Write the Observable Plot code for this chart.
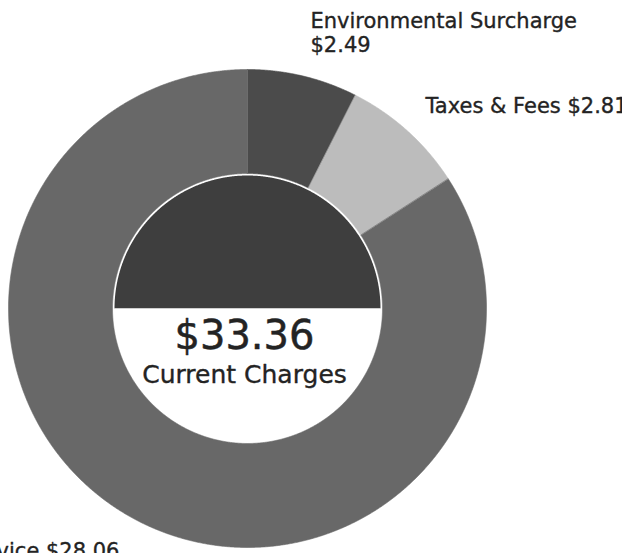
<!DOCTYPE html>
<html>
<head>
<meta charset="utf-8">
<script src="https://cdn.jsdelivr.net/npm/d3@7"></script>
<script src="https://cdn.jsdelivr.net/npm/@observablehq/plot@0.6"></script>
<style>
  html, body { margin: 0; padding: 0; background: #fff; overflow: hidden; }
  #chart svg { display: block; overflow: visible; }
</style>
</head>
<body>
<div id="chart"></div>
<script>
// ---- data ----
const categories = ["Environmental Surcharge", "Taxes & Fees", "Service"];
const values = [2.49, 2.81, 28.06];
const labelNames = ["Environmental Surcharge\n", "Taxes & Fees ", "Service "];
const total = 33.36;
const totalLabel = "Current Charges";

// ---- layout & style ----
const W = 622, H = 553;
const cx = 247, cy = 308;          // donut centre (px)
const rOuter = 239, rInner = 135, rDisc = 133;
const colors = ["#4b4b4b", "#bcbcbc", "#686868"];
const discColor = "#3e3e3e";
const textColor = "#232323";
const labelPos = [
  {x: 310, y: 51, anchor: "start"},
  {x: 425, y: 112, anchor: "start"},
  {x: 119, y: 557, anchor: "end"}
];
const fmt = d3.format("$.2f");

// ---- geometry from data ----
const arcs = d3.pie().sort(null).value(d => d)(values);
const step = Math.PI / 720;
function arcPts(r, a0, a1) {
  const n = Math.max(2, Math.ceil(Math.abs(a1 - a0) / step));
  return d3.range(n + 1).map(i => {
    const a = a0 + (a1 - a0) * i / n;
    return [cx + r * Math.sin(a), cy - r * Math.cos(a)];
  });
}
const slicePts = [];
arcs.forEach((a, i) => {
  const ring = [...arcPts(rOuter, a.startAngle, a.endAngle), ...arcPts(rInner, a.endAngle, a.startAngle)];
  ring.forEach(([x, y]) => slicePts.push({key: categories[i], x, y}));
});
// centre disc: top half dark, bottom half white
const discPts = [];
arcPts(rDisc, -Math.PI / 2, Math.PI / 2).forEach(([x, y]) => discPts.push({key: "top", x, y}));
arcPts(rDisc, Math.PI / 2, 3 * Math.PI / 2).forEach(([x, y]) => discPts.push({key: "bottom", x, y}));

const labelData = categories.map((c, i) => ({
  text: labelNames[i] + fmt(values[i]),
  x: labelPos[i].x, y: labelPos[i].y, anchor: labelPos[i].anchor
}));

const textStyle = {fill: textColor, stroke: textColor, strokeWidth: 0.35};

const chart = Plot.plot({
  width: W,
  height: H,
  margin: 0,
  style: {fontFamily: "DejaVu Sans", background: "#fff", overflow: "visible"},
  x: {domain: [0, W], range: [0, W], axis: null},
  y: {domain: [0, H], range: [0, H], axis: null},
  color: {type: "ordinal", domain: [...categories, "top", "bottom"], range: [...colors, discColor, "#ffffff"]},
  marks: [
    Plot.line(slicePts, {x: "x", y: "y", z: "key", fill: "key", stroke: "key", strokeWidth: 0.6, curve: "linear-closed"}),
    Plot.line(discPts, {x: "x", y: "y", z: "key", fill: "key", stroke: "none", curve: "linear-closed"}),
    Plot.text(labelData.filter(d => d.anchor === "start"), {
      x: "x", y: "y", text: "text", textAnchor: "start", lineAnchor: "bottom",
      fontSize: 21, lineHeight: 1.14, ...textStyle
    }),
    Plot.text(labelData.filter(d => d.anchor === "end"), {
      x: "x", y: "y", text: "text", textAnchor: "end", lineAnchor: "bottom",
      fontSize: 21, ...textStyle
    }),
    Plot.text([fmt(total)], {x: () => cx - 3, y: () => 348, text: d => d, lineAnchor: "bottom", fontSize: 40, ...textStyle, strokeWidth: 0.5}),
    Plot.text([totalLabel], {x: () => cx - 3, y: () => 382, text: d => d, lineAnchor: "bottom", fontSize: 25, ...textStyle})
  ]
});
document.getElementById("chart").appendChild(chart);
</script>
</body>
</html>
